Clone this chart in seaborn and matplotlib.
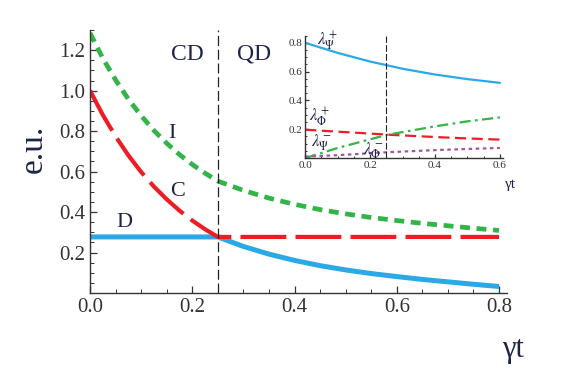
import numpy as np
import matplotlib
matplotlib.use('Agg')
import matplotlib.pyplot as plt
from matplotlib.ticker import MultipleLocator
import seaborn as sns

# ============================================================
# data
# ============================================================
# classical-dominated region (CD), 0 <= gamma t <= 0.25
t_cd = [0.0, 0.025, 0.05, 0.075, 0.1, 0.125, 0.15, 0.175, 0.2, 0.225, 0.25]
c_cd = [1.0, 0.88, 0.774, 0.68, 0.598, 0.526, 0.463, 0.407, 0.358, 0.315, 0.277]
i_cd = [1.285, 1.16, 1.053, 0.958, 0.876, 0.803, 0.74, 0.684, 0.635, 0.592, 0.553]
d_cd = [0.277, 0.277, 0.277, 0.277, 0.277, 0.277, 0.277, 0.277, 0.277, 0.277, 0.277]

# quantum-dominated region (QD), 0.25 <= gamma t <= 0.8
t_qd = [0.25, 0.3, 0.35, 0.4, 0.45, 0.5, 0.55, 0.6, 0.65, 0.7, 0.75, 0.8]
d_qd = [0.277, 0.23, 0.192, 0.161, 0.135, 0.114, 0.096, 0.081, 0.067, 0.055, 0.043, 0.032]
c_qd = [0.277, 0.277, 0.277, 0.277, 0.277, 0.277, 0.277, 0.277, 0.277, 0.277, 0.277, 0.277]
i_qd = [0.553, 0.507, 0.469, 0.438, 0.412, 0.391, 0.373, 0.358, 0.344, 0.332, 0.32, 0.309]

t_switch = 0.25

# inset: eigenvalues
t_in = [0.0, 0.1, 0.2, 0.25, 0.3, 0.4, 0.5, 0.6]
psi_plus = [0.8, 0.73, 0.67, 0.645, 0.62, 0.58, 0.548, 0.522]
phi_plus = [0.197, 0.183, 0.17, 0.163, 0.157, 0.146, 0.136, 0.128]
psi_minus = [0.0, 0.07, 0.13, 0.16, 0.18, 0.22, 0.255, 0.282]
phi_minus = [0.01, 0.02, 0.033, 0.04, 0.045, 0.055, 0.063, 0.07]

main_xticks = [0.0, 0.2, 0.4, 0.6, 0.8]
main_yticks = [0.2, 0.4, 0.6, 0.8, 1.0, 1.2]
in_xticks = [0.0, 0.2, 0.4, 0.6]
in_yticks = [0.2, 0.4, 0.6, 0.8]

# ============================================================
# style
# ============================================================
sns.set_style('ticks')
plt.rcParams['font.family'] = ['Liberation Serif', 'DejaVu Serif']
plt.rcParams['mathtext.fontset'] = 'stix'

BLUE = '#2aa9e6'
RED = '#ee1c25'
GREEN = '#33b449'
PURPLE = '#a2569c'
TXT = '#1e2448'
AX = '#333333'

t_c = t_cd + t_qd[1:]
C = c_cd + c_qd[1:]
D = d_cd + d_qd[1:]
I = i_cd + i_qd[1:]

fig = plt.figure(figsize=(5.77, 3.79), dpi=100)
ax = fig.add_axes([0.156, 0.227, 0.723, 0.694])


def mathematica_axes(a, xlim, ylim, minor, lsize):
    a.set_xlim(*xlim)
    a.set_ylim(*ylim)
    for s in ['top', 'right']:
        a.spines[s].set_visible(False)
    for s in ['left', 'bottom']:
        a.spines[s].set_color(AX)
        a.spines[s].set_linewidth(1.0)
    a.xaxis.set_minor_locator(MultipleLocator(minor))
    a.yaxis.set_minor_locator(MultipleLocator(minor))
    a.tick_params(which='major', direction='in', length=5, width=0.9,
                  color=AX, labelsize=lsize, labelcolor=AX)
    a.tick_params(which='minor', direction='in', length=3, width=0.7, color=AX)
    a.set_xlabel('')
    a.set_ylabel('')


sns.lineplot(x=t_c, y=D, color=BLUE, linewidth=3.6, ax=ax,
             solid_capstyle='butt')
sns.lineplot(x=t_c, y=C, color=RED, linewidth=3.0, ax=ax,
             linestyle=(0, (11, 2.2)), dash_capstyle='butt')
sns.lineplot(x=t_c, y=I, color=GREEN, linewidth=3.4, ax=ax,
             linestyle=(0, (2.1, 1.4)), dash_capstyle='butt')
ax.axvline(t_switch, color='#222222', linewidth=0.9, linestyle=(0, (8, 3)))

mathematica_axes(ax, (0, 0.816), (0, 1.30), 0.05, 15)
ax.set_xticks(main_xticks)
ax.set_xticklabels(['%.1f' % v for v in main_xticks])
ax.set_yticks(main_yticks)
ax.set_yticklabels(['%.1f' % v for v in main_yticks])

ax.text(0.19, 1.18, 'CD', fontsize=17, color=TXT, ha='center', va='center')
ax.text(0.32, 1.18, 'QD', fontsize=17, color=TXT, ha='center', va='center')
ax.text(0.16, 0.79, 'I', fontsize=16, color=TXT, ha='center', va='center')
ax.text(0.172, 0.50, 'C', fontsize=16, color=TXT, ha='center', va='center')
ax.text(0.068, 0.35, 'D', fontsize=16, color=TXT, ha='center', va='center')

fig.text(0.058, 0.607, 'e.u.', fontsize=24, color=TXT, rotation=90,
         ha='center', va='center')
fig.text(0.889, 0.077, 'γt', fontsize=22, color=TXT,
         ha='center', va='center')

# ============================================================
# inset
# ============================================================
ins = fig.add_axes([0.529, 0.583, 0.343, 0.323])
ins.patch.set_alpha(0)
sns.lineplot(x=t_in, y=psi_plus, color=BLUE, linewidth=1.6, ax=ins)
sns.lineplot(x=t_in, y=phi_plus, color=RED, linewidth=1.6, ax=ins,
             linestyle=(0, (5, 2.5)))
sns.lineplot(x=t_in, y=psi_minus, color=GREEN, linewidth=1.6, ax=ins,
             linestyle=(0, (5, 2, 1.2, 2)))
sns.lineplot(x=t_in, y=phi_minus, color=PURPLE, linewidth=1.6, ax=ins,
             linestyle=(0, (1.6, 1.6)))
ins.axvline(t_switch, color='#222222', linewidth=0.8, linestyle=(0, (6, 2)))

mathematica_axes(ins, (0, 0.61), (0, 0.85), 0.05, 8)
ins.tick_params(which='major', length=3, pad=2)
ins.tick_params(which='minor', length=1.5)
ins.set_xticks(in_xticks)
ins.set_xticklabels(['%.1f' % v for v in in_xticks])
ins.set_yticks(in_yticks)
ins.set_yticklabels(['%.1f' % v for v in in_yticks])

ins.text(0.068, 0.81, r'$\lambda_\Psi^+$', fontsize=12, color=TXT,
         ha='center', va='center')
ins.text(0.045, 0.28, r'$\lambda_\Phi^+$', fontsize=12, color=TXT,
         ha='center', va='center')
ins.text(0.05, 0.11, r'$\lambda_\Psi^-$', fontsize=12, color=TXT,
         ha='center', va='center')
ins.text(0.21, 0.055, r'$\lambda_\Phi^-$', fontsize=12, color=TXT,
         ha='center', va='center')
fig.text(0.884, 0.512, 'γt', fontsize=11, color=TXT,
         ha='center', va='center')

fig.savefig('out.png', dpi=100)
